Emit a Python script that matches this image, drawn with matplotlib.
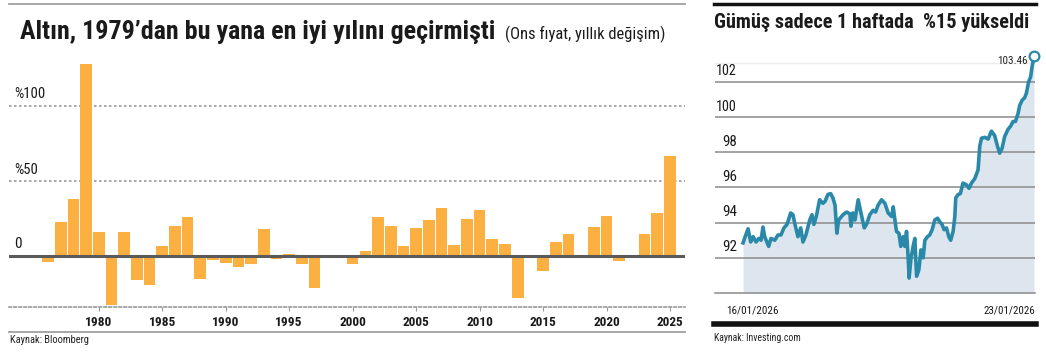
import numpy as np
import matplotlib
matplotlib.use("Agg")
import matplotlib.pyplot as plt
from matplotlib.lines import Line2D

plt.rcParams['font.family'] = ['Roboto Condensed', 'DejaVu Sans Condensed',
                               'Liberation Sans Narrow', 'Roboto', 'DejaVu Sans']

# Altın: yıllık değişim (%)
yillar = list(range(1976, 2026))
degisim = [-4, 23, 38, 128, 16, -32.5, 16, -16, -19.5, 6.5, 20, 26, -15.5, -2.7,
           -4.5, -7.3, -5.3, 18, -2, 1.5, -5, -21.5, 1, 1, -5, 3.3, 26, 20, 6.7, 19,
           24, 32, 7.3, 25, 30.5, 11.3, 8, -28, -1.5, -10, 9.3, 14.7, -1.5, 19.3,
           26.5, -3.6, 1, 14.7, 28.5, 66.5]
yil_etiket = [1980, 1985, 1990, 1995, 2000, 2005, 2010, 2015, 2020, 2025]

# Gümüş: 16/01/2026 - 23/01/2026 (saat, fiyat)
saat = [0, 1.2, 2.9, 4.4, 5.8, 7.5, 9.1, 10.4, 11.5, 12.5, 14.8, 16.1, 18.3, 20.2,
        21.9, 23.6, 25.4, 27.5, 28.8, 30.0, 31.7, 33.3, 34.6, 36.3, 38.5, 39.8,
        40.9, 42.3, 44.2, 46.1, 47.3, 49.0, 50.6, 51.9, 53.1, 54.2, 55.2, 57.7,
        59.8, 61.7, 62.3, 63.4, 64.6, 66.5, 68.1, 70.0, 71.3, 73.2, 75.1, 76.5,
        78.0, 80.0, 81.9, 83.8, 85.8, 86.7, 87.7, 88.6, 90.0, 91.1, 92.4, 93.4,
        94.4, 95.3, 95.9, 96.9, 98.2, 99.2, 100.2, 101.5, 102.7, 104.0, 105.0,
        106.5, 107.8, 109.2, 110.7, 112.3, 113.6, 114.9, 116.1, 117.5, 118.8,
        119.9, 121.3, 122.3, 122.8, 124.2, 125.5, 127.0, 129.0, 130.5, 131.9,
        133.8, 135.7, 136.7, 137.7, 139.6, 141.5, 143.4, 145.3, 146.9, 148.2,
        149.5, 151.1, 153.0, 154.6, 155.9, 157.3, 158.8, 159.7, 161.1, 162.6,
        163.6, 164.9, 166.1, 166.8, 168.0]
fiyat = [92.85, 93.2, 93.65, 92.9, 93.2, 92.9, 93.1, 93.0, 93.75, 93.2, 92.65, 93.1,
         93.0, 93.3, 93.3, 93.7, 93.9, 94.55, 94.45, 93.9, 93.2, 93.7, 92.9, 93.3,
         94.15, 94.45, 93.9, 94.35, 95.3, 95.1, 95.2, 95.6, 95.65, 95.4, 95.0, 93.4,
         94.15, 94.45, 94.6, 94.5, 93.8, 94.55, 94.15, 95.3, 94.55, 93.7, 93.9,
         94.45, 94.7, 94.6, 95.0, 95.3, 95.1, 94.55, 94.35, 94.9, 94.15, 93.5, 93.4,
         92.65, 93.2, 92.65, 93.5, 92.1, 90.85, 91.9, 92.65, 93.1, 90.95, 91.3,
         92.45, 92.0, 93.0, 93.2, 93.3, 93.6, 94.15, 94.25, 94.05, 93.9, 93.6, 93.7,
         93.2, 93.0, 93.5, 94.35, 95.4, 95.6, 95.65, 96.25, 96.15, 95.95, 96.25,
         96.5, 97.0, 98.35, 98.8, 98.85, 98.75, 99.2, 98.95, 98.35, 97.95, 98.2,
         98.9, 99.3, 99.5, 99.75, 99.75, 100.2, 100.65, 100.95, 101.1, 101.35,
         102.0, 102.3, 102.8, 103.46]
gumus_tick = [92, 94, 96, 98, 100, 102]

W, H = 1046, 356
fig = plt.figure(figsize=(W / 100, H / 100), dpi=100)
renderer = fig.canvas.get_renderer()

def fx(px):
    return px / W

def fy(py):
    return 1 - py / H

def cizgi(x0, x1, y, renk, lw):
    fig.add_artist(Line2D([fx(x0), fx(x1)], [fy(y), fy(y)], color=renk, lw=lw,
                          transform=fig.transFigure))

# metni hedef genişliğe sığdır
def sigdir(t, genislik):
    bb = t.get_window_extent(renderer)
    t.set_fontsize(t.get_fontsize() * genislik / bb.width)

# =========================
# Sol grafik: altın
ax = fig.add_axes([fx(9), fy(307), fx(685) - fx(9), fy(55) - fy(307)])
ax.bar(yillar, degisim, width=0.92, color='#fcb041', zorder=2)
ax.set_xlim(1972.93, 2026.18)
ax.set_ylim(-34, 134)
for v in [50, 100]:
    ax.axhline(v, color='#999999', lw=1.2, ls=(0, (1.5, 1.5)), zorder=1)
ax.axhline(0, color='#5a5a5a', lw=2.2, zorder=3)
for s in ['top', 'left', 'right']:
    ax.spines[s].set_visible(False)
ax.spines['bottom'].set_color('#999999')
ax.spines['bottom'].set_linewidth(1.2)
ax.spines['bottom'].set_linestyle((0, (1.5, 1.5)))
ax.set_yticks([])
ax.set_xticks(yil_etiket)
ax.tick_params(axis='x', length=3, color='#999999', labelbottom=False)
for y in yil_etiket:
    t = ax.text(y, -44, str(y), fontsize=11, fontweight='bold', color='#1a1a1a',
                ha='center', va='center')
    sigdir(t, 27)
for v, s, w in [(100, '%100', 31), (50, '%50', 24), (0, '0', 7.5)]:
    t = ax.text(1973.35, v + 3, s, fontsize=11, color='#1a1a1a', va='bottom',
                ha='left')
    sigdir(t, w)

t = fig.text(fx(20), fy(32), 'Altın, 1979’dan bu yana en iyi yılını geçirmişti',
             fontsize=19, fontweight='bold', color='#1a1a1a', va='center',
             ha='left')
sigdir(t, 477)
t = fig.text(fx(505), fy(34), '(Ons fıyat, yıllık değişim)', fontsize=11.5,
             color='#1a1a1a', va='center', ha='left')
sigdir(t, 160)
cizgi(9, 685, 4, '#a0a0a0', 1.3)
cizgi(9, 685, 332, '#a0a0a0', 1.3)
t = fig.text(fx(10), fy(340), 'Kaynak: Bloomberg', fontsize=8.5, color='#222222',
             va='center', ha='left')
sigdir(t, 78)

# =========================
# Sağ grafik: gümüş
ax2 = fig.add_axes([fx(715), fy(293), fx(1034.5) - fx(715), fy(52) - fy(293)])
mavi = '#2a89a9'
ax2.fill_between(saat, fiyat, 90, color='#dde6ee', lw=0, zorder=1)
ax2.plot(saat, fiyat, color=mavi, lw=2.6, zorder=3, solid_joinstyle='round')
ax2.plot(saat[-1], fiyat[-1], 'o', ms=7, mfc='white', mec=mavi, mew=1.6, zorder=4,
         clip_on=False)
t = ax2.text(saat[-1] - 3.5, fiyat[-1] - 0.3, '103.46', fontsize=10,
             color='#222222', ha='right', va='center')
sigdir(t, 30)
ax2.set_xlim(-16.2, 168.3)
ax2.set_ylim(90, 103.7)
for v in gumus_tick:
    ax2.axhline(v, color='#8a8a8a', lw=1.1, zorder=2)
ax2.axhline(103.07, color='#ececec', lw=1, zorder=0)
for s in ['top', 'left', 'right']:
    ax2.spines[s].set_visible(False)
ax2.spines['bottom'].set_color('#8a8a8a')
ax2.spines['bottom'].set_linewidth(1.1)
ax2.set_xticks([])
ax2.set_yticks([])
for v in gumus_tick:
    t = ax2.text((737 - 715) / (1034.5 - 715), v + 0.6, str(v), fontsize=13.5,
                 color='#1a1a1a', ha='right', va='center',
                 transform=ax2.get_yaxis_transform())
    sigdir(t, 21 if v >= 100 else 15)

t = fig.text(fx(714), fy(22), 'Gümüş sadece 1 haftada  %15 yükseldi',
             fontsize=13.5, fontweight='bold', color='#1a1a1a', va='center',
             ha='left')
sigdir(t, 314)
t = fig.text(fx(726), fy(310), '16/01/2026', fontsize=11, color='#1a1a1a',
             va='center', ha='left')
sigdir(t, 52)
t = fig.text(fx(1035), fy(310), '23/01/2026', fontsize=11, color='#1a1a1a',
             va='center', ha='right')
sigdir(t, 52)
cizgi(714, 1036, 4, '#111111', 2.5)
cizgi(714, 1036, 324, '#111111', 4)
t = fig.text(fx(714), fy(338), 'Kaynak: Investing.com', fontsize=8.5,
             color='#222222', va='center', ha='left')
sigdir(t, 86)

fig.savefig('out.png', dpi=100)
